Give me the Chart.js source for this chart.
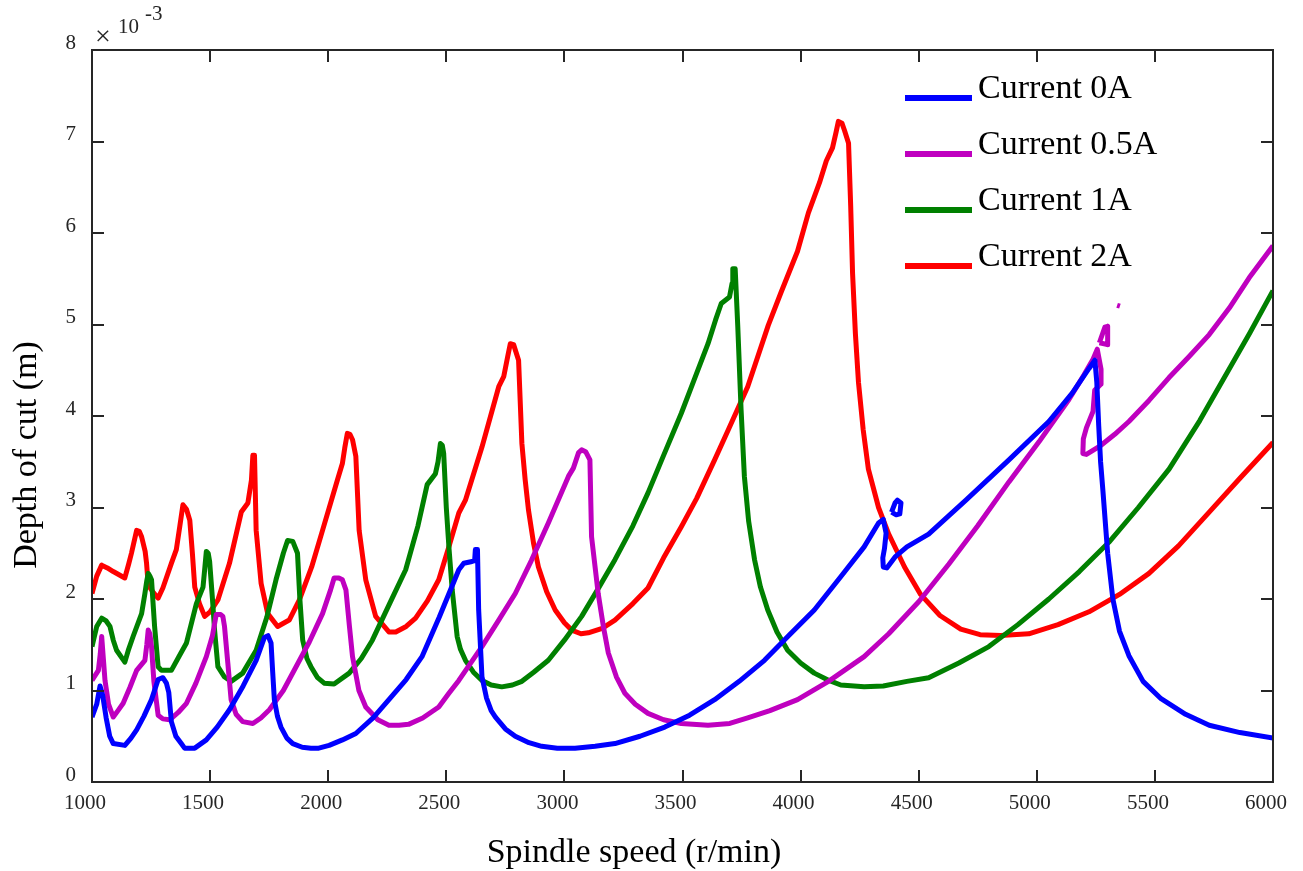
<!DOCTYPE html>
<html>
<head>
<meta charset="utf-8">
<script src="https://cdn.jsdelivr.net/npm/chart.js@4.4.0/dist/chart.umd.min.js"></script>
<style>
  html, body { margin: 0; padding: 0; background: #fff; }
  canvas { display: block; }
</style>
</head>
<body>
<canvas id="lobes" width="1303" height="871"></canvas>
<script>
// spindle speed (r/min) and depth of cut (x1e-3 m); null = break in the curve
const speed0A = [1000,1020,1034,1045,1060,1075,1090,1139,1165,1189,1220,1252,1280,1300,1315,1325,1336,1355,1378,1392,1435,1484,1530,1582,1640,1695,1730,1745,1758,1765,1772,1785,1800,1825,1850,1890,1927,1960,2004,2060,2117,2190,2257,2330,2397,2470,2553,2574,2609,2620,2623,2632,2637,2651,2670,2690,2708,2750,2792,2850,2904,2970,3045,3130,3214,3320,3425,3530,3636,3740,3847,3950,4058,4169,4269,4330,4350,4362,4355,4348,4350,4365,4400,4450,4542,4700,4882,5051,5150,5221,5246,5254,5262,5270,5280,5300,5322,5350,5390,5450,5526,5630,5730,5860,6000,
  null,4385,4400,4410,4425,4420,4405,4385];
const depth0A = [0.71,0.85,1.05,0.95,0.70,0.50,0.42,0.40,0.48,0.57,0.72,0.90,1.12,1.14,1.08,0.98,0.66,0.50,0.42,0.37,0.37,0.46,0.60,0.79,1.05,1.33,1.58,1.60,1.52,1.20,0.90,0.72,0.60,0.48,0.42,0.38,0.37,0.37,0.40,0.46,0.53,0.70,0.90,1.12,1.37,1.80,2.32,2.39,2.41,2.42,2.54,2.54,1.88,1.15,0.92,0.78,0.71,0.58,0.50,0.43,0.39,0.37,0.37,0.39,0.42,0.50,0.60,0.73,0.90,1.10,1.33,1.60,1.88,2.24,2.57,2.83,2.87,2.72,2.55,2.45,2.35,2.34,2.46,2.57,2.71,3.08,3.52,3.94,4.25,4.52,4.61,4.37,3.90,3.50,3.18,2.50,2.00,1.65,1.38,1.10,0.91,0.74,0.62,0.54,0.48,
  null,2.95,3.05,3.08,3.05,2.93,2.92,2.95];

const speed05A = [1000,1027,1035,1041,1048,1055,1070,1090,1110,1132,1160,1189,1224,1232,1238,1245,1252,1262,1280,1300,1329,1365,1400,1440,1484,1510,1526,1545,1554,1561,1575,1589,1610,1638,1681,1715,1751,1810,1864,1920,1976,2010,2025,2045,2060,2075,2090,2103,2130,2159,2210,2257,2300,2340,2400,2468,2511,2553,2651,2720,2792,2860,2932,3017,3038,3060,3073,3090,3108,3115,3143,3165,3186,3220,3256,3300,3354,3420,3495,3608,3700,3776,3870,3987,4118,4269,4373,4500,4627,4750,4882,5010,5136,5200,5238,5256,5272,5272,5245,5238,5210,5197,5195,5210,5272,5330,5390,5475,5560,5645,5730,5815,5899,6000,
  null,5265,5288,5300,5300,5265,
  null,5340,5352];
const depth05A = [1.11,1.22,1.40,1.59,1.35,1.11,0.85,0.71,0.78,0.86,1.03,1.22,1.33,1.50,1.66,1.62,1.48,1.10,0.73,0.69,0.68,0.76,0.86,1.08,1.37,1.60,1.83,1.83,1.81,1.70,1.30,0.90,0.74,0.66,0.64,0.70,0.79,1.00,1.26,1.53,1.84,2.10,2.23,2.23,2.21,2.10,1.70,1.37,1.00,0.82,0.68,0.62,0.62,0.63,0.70,0.82,0.97,1.11,1.48,1.76,2.06,2.42,2.83,3.34,3.43,3.60,3.63,3.61,3.52,2.68,2.06,1.70,1.41,1.15,0.97,0.85,0.75,0.68,0.64,0.62,0.64,0.70,0.78,0.90,1.10,1.37,1.62,1.97,2.38,2.80,3.28,3.72,4.18,4.45,4.62,4.73,4.51,4.35,4.28,4.05,3.87,3.75,3.59,3.58,3.68,3.80,3.94,4.17,4.42,4.65,4.89,5.18,5.51,5.86,
  null,4.80,4.97,4.98,4.78,4.80,
  null,5.21,5.20];

const speed1A = [1000,1020,1041,1060,1076,1090,1104,1139,1155,1174,1210,1224,1232,1238,1245,1252,1265,1280,1294,1336,1370,1400,1442,1470,1478,1484,1492,1498,1510,1519,1533,1560,1589,1638,1695,1740,1779,1810,1828,1850,1870,1880,1892,1910,1927,1955,1983,2025,2089,2140,2187,2260,2328,2380,2419,2454,2465,2475,2483,2489,2500,2511,2525,2546,2560,2581,2615,2651,2690,2735,2780,2820,2870,2932,3000,3073,3140,3214,3290,3354,3420,3495,3550,3608,3640,3664,3699,3710,3713,3723,3734,3748,3762,3780,3805,3830,3861,3900,3945,4000,4058,4120,4170,4269,4350,4450,4542,4670,4797,4920,5051,5180,5305,5430,5560,5690,5814,5900,6000];
const depth1A = [1.48,1.70,1.79,1.76,1.70,1.55,1.44,1.31,1.45,1.59,1.84,2.06,2.20,2.28,2.25,2.21,1.70,1.26,1.22,1.22,1.38,1.52,1.95,2.13,2.35,2.52,2.50,2.41,2.00,1.66,1.26,1.15,1.10,1.19,1.44,1.80,2.21,2.50,2.64,2.63,2.50,2.00,1.55,1.35,1.26,1.14,1.08,1.07,1.19,1.35,1.55,1.95,2.32,2.80,3.25,3.37,3.50,3.70,3.68,3.59,3.00,2.57,2.10,1.59,1.45,1.33,1.20,1.11,1.06,1.04,1.06,1.10,1.20,1.33,1.55,1.81,2.10,2.43,2.80,3.16,3.57,4.03,4.40,4.79,5.05,5.23,5.30,5.45,5.61,5.61,4.98,4.07,3.34,2.85,2.43,2.13,1.88,1.64,1.44,1.30,1.19,1.11,1.06,1.04,1.05,1.10,1.14,1.30,1.48,1.72,2.00,2.30,2.62,3.00,3.42,3.95,4.51,4.90,5.37];

const speed2A = [1000,1020,1041,1065,1090,1139,1155,1167,1189,1200,1210,1225,1231,1238,1260,1280,1300,1336,1357,1372,1385,1400,1414,1425,1435,1455,1477,1500,1533,1582,1632,1660,1675,1681,1688,1695,1716,1744,1786,1835,1878,1930,1976,2039,2060,2070,2081,2092,2103,2117,2131,2159,2201,2257,2286,2330,2370,2420,2468,2511,2553,2581,2651,2722,2743,2760,2771,2785,2806,2820,2834,2848,2870,2890,2925,2961,3000,3031,3070,3101,3160,3214,3290,3354,3420,3495,3560,3636,3694,3776,3863,3917,3987,4033,4080,4109,4135,4150,4160,4175,4186,4203,4212,4220,4232,4245,4265,4287,4330,4373,4440,4508,4590,4678,4760,4847,4966,5090,5221,5350,5475,5600,5730,5860,6000];
const depth2A = [2.06,2.25,2.37,2.34,2.30,2.23,2.38,2.50,2.75,2.74,2.68,2.52,2.39,2.15,2.07,2.01,2.12,2.39,2.54,2.80,3.03,2.98,2.86,2.50,2.13,1.95,1.81,1.86,1.99,2.39,2.95,3.05,3.30,3.57,3.57,2.75,2.17,1.84,1.70,1.77,1.99,2.35,2.75,3.30,3.48,3.65,3.81,3.80,3.74,3.56,2.75,2.21,1.81,1.64,1.64,1.70,1.79,1.98,2.21,2.57,2.94,3.08,3.66,4.32,4.43,4.65,4.79,4.78,4.61,3.70,3.30,2.97,2.60,2.35,2.08,1.88,1.74,1.66,1.62,1.63,1.68,1.77,1.95,2.12,2.45,2.79,3.10,3.52,3.85,4.32,4.99,5.35,5.80,6.22,6.55,6.79,6.93,7.10,7.22,7.20,7.12,6.98,6.30,5.56,4.90,4.37,3.85,3.42,3.00,2.71,2.35,2.05,1.82,1.67,1.61,1.60,1.62,1.72,1.86,2.05,2.28,2.58,2.95,3.32,3.71];

const seriesNames = ['Current 0A', 'Current 0.5A', 'Current 1A', 'Current 2A'];
const seriesColors = ['#0000ff', '#bf00bf', '#008000', '#ff0000'];
const speedTicks = [1000, 1500, 2000, 2500, 3000, 3500, 4000, 4500, 5000, 5500, 6000];
const depthTicks = [0, 1, 2, 3, 4, 5, 6, 7, 8];

const SERIF = "'Liberation Serif', 'Times New Roman', serif";
const INK = '#262626';

function toPoints(xs, ys) {
  let lastX = xs[0];
  return xs.map((x, i) => {
    if (x === null) return {x: lastX, y: null};
    lastX = x;
    return {x: x, y: ys[i]};
  });
}

const allSpeeds = [speed0A, speed05A, speed1A, speed2A];
const allDepths = [depth0A, depth05A, depth1A, depth2A];

// box, inward ticks, legend, titles and the exponent note
const decorations = {
  id: 'decorations',
  afterDraw(chart) {
    const ctx = chart.ctx;
    const a = chart.chartArea;
    const xs = chart.scales.x, ys = chart.scales.y;
    const tick = 12;
    ctx.save();
    ctx.strokeStyle = INK;
    ctx.lineWidth = 2;
    ctx.beginPath();
    ctx.rect(a.left, a.top, a.right - a.left, a.bottom - a.top);
    speedTicks.forEach(v => {
      const p = Math.round(xs.getPixelForValue(v));
      ctx.moveTo(p, a.bottom); ctx.lineTo(p, a.bottom - tick);
      ctx.moveTo(p, a.top); ctx.lineTo(p, a.top + tick);
    });
    depthTicks.forEach(v => {
      const p = Math.round(ys.getPixelForValue(v));
      ctx.moveTo(a.left, p); ctx.lineTo(a.left + tick, p);
      ctx.moveTo(a.right, p); ctx.lineTo(a.right - tick, p);
    });
    ctx.stroke();

    // legend
    ctx.font = '34px ' + SERIF;
    ctx.textBaseline = 'alphabetic';
    ctx.textAlign = 'left';
    seriesNames.forEach((name, i) => {
      const y = 98 + i * 56;
      ctx.strokeStyle = seriesColors[i];
      ctx.lineWidth = 6;
      ctx.beginPath();
      ctx.moveTo(905, y); ctx.lineTo(972, y);
      ctx.stroke();
      ctx.fillStyle = '#000';
      ctx.fillText(name, 978, y);
    });

    // axis titles
    ctx.fillStyle = '#000';
    ctx.textAlign = 'center';
    ctx.textBaseline = 'middle';
    ctx.fillText('Spindle speed (r/min)', 634, 853);
    ctx.save();
    ctx.translate(27, 455);
    ctx.rotate(-Math.PI / 2);
    ctx.fillText('Depth of cut (m)', 0, 0);
    ctx.restore();

    // x10^-3
    ctx.fillStyle = INK;
    ctx.textAlign = 'left';
    ctx.textBaseline = 'alphabetic';
    ctx.font = '28px ' + SERIF;
    ctx.fillText('\u00d7', 95, 45);
    ctx.font = '21px ' + SERIF;
    ctx.fillText('10', 118, 33);
    ctx.fillText('-3', 145, 20);
    ctx.restore();
  }
};

new Chart(document.getElementById('lobes'), {
  type: 'line',
  data: {
    datasets: seriesNames.map((name, i) => ({
      label: name,
      data: toPoints(allSpeeds[i], allDepths[i]),
      borderColor: seriesColors[i],
      backgroundColor: seriesColors[i],
      borderWidth: 5,
      pointRadius: 0,
      tension: 0,
      spanGaps: false,
      borderJoinStyle: 'round',
      borderCapStyle: 'butt',
    }))
  },
  options: {
    responsive: false,
    animation: false,
    devicePixelRatio: 1,
    layout: {padding: {top: 50, right: 26, left: 0, bottom: 0}},
    plugins: {
      legend: {display: false},
      tooltip: {enabled: false},
    },
    scales: {
      x: {
        type: 'linear',
        min: 1000, max: 6000,
        grid: {display: false, drawTicks: false},
        border: {display: false},
        afterBuildTicks: s => { s.ticks = speedTicks.map(v => ({value: v})); },
        afterFit: s => { s.height = 89; },
        ticks: {
          color: INK,
          font: {family: SERIF, size: 21},
          padding: 9,
          labelOffset: -7,
          maxRotation: 0,
          autoSkip: false,
          callback: v => String(v),
        },
      },
      y: {
        type: 'linear',
        min: 0, max: 8,
        grid: {display: false, drawTicks: false},
        border: {display: false},
        afterBuildTicks: s => { s.ticks = depthTicks.map(v => ({value: v})); },
        afterFit: s => { s.width = 92; },
        ticks: {
          color: INK,
          font: {family: SERIF, size: 21},
          padding: 16,
          labelOffset: -7,
          autoSkip: false,
          callback: v => String(v),
        },
      },
    },
  },
  plugins: [decorations],
});
</script>
</body>
</html>
